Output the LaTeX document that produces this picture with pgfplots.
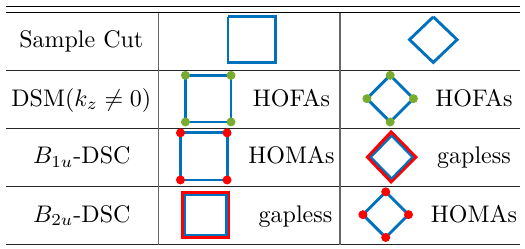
\documentclass[border=0pt]{standalone}
\usepackage{pgfplots}
\pgfplotsset{compat=1.18}
\definecolor{mblue}{HTML}{0072BD}
\definecolor{mgreen}{HTML}{77AC30}
\definecolor{mred}{HTML}{FF0000}
\begin{document}
\begin{tikzpicture}
\begin{axis}[
  scale only axis, width=216.9pt, height=103.7pt,
  xmin=0, xmax=525, ymin=0, ymax=251, y dir=reverse,
  hide axis, clip=false,
]
% invisible frame
\addplot[draw=none, forget plot] coordinates {(0,0) (525,251)};
% table rules
\addplot[black, line width=0.45pt] coordinates {(6,7) (524,7)};
\addplot[black, line width=0.45pt] coordinates {(6,12.7) (524,12.7)};
\addplot[black!85, line width=0.45pt] coordinates {(6,71) (524,71)};
\addplot[black!85, line width=0.45pt] coordinates {(6,130) (524,130)};
\addplot[black!85, line width=0.45pt] coordinates {(6,188.5) (524,188.5)};
\addplot[black!85, line width=0.45pt] coordinates {(6,247) (524,247)};
\addplot[black!60, line width=0.5pt] coordinates {(160,13) (160,247)};
\addplot[black!60, line width=0.5pt] coordinates {(343,13) (343,247)};
% row 1
\addplot[mblue, line width=1.2pt] coordinates {(230,17) (278,17) (278,63) (230,63) (230,17)};
\addplot[mblue, line width=1.2pt] coordinates {(437,17) (461,40) (437,63) (413,40) (437,17)};
% row 2
\addplot[mblue, line width=1.2pt] coordinates {(187,76) (233,76) (233,123) (187,123) (187,76)};
\addplot[only marks, mark=*, mark size=1.65pt, mgreen, mark options={draw=mgreen, fill=mgreen}] coordinates {(187,76) (233,76) (233,123) (187,123)};
\addplot[mblue, line width=1.2pt] coordinates {(393.5,76) (417,99.5) (393.5,123) (370,99.5) (393.5,76)};
\addplot[only marks, mark=*, mark size=1.65pt, mgreen, mark options={draw=mgreen, fill=mgreen}] coordinates {(393.5,76) (417,99.5) (393.5,123) (370,99.5)};
% row 3
\addplot[mblue, line width=1.2pt] coordinates {(182,134) (229,134) (229,181.5) (182,181.5) (182,134)};
\addplot[only marks, mark=*, mark size=1.65pt, mred, mark options={draw=mred, fill=mred}] coordinates {(182,134) (229,134) (229,181.5) (182,181.5)};
\addplot[mred, line width=1.5pt] coordinates {(394.5,133.5) (419,158.5) (394.5,183) (371,158.5) (394.5,133.5) (419,158.5)};
\addplot[mblue, line width=0.9pt] coordinates {(395,137) (416,158.5) (395,180) (374,158.5) (395,137) (416,158.5)};
% row 4
\addplot[mred, line width=1.4pt] coordinates {(184,194.5) (230.5,194.5) (230.5,239.5) (184,239.5) (184,194.5) (230.5,194.5)};
\addplot[mblue, line width=0.9pt] coordinates {(186.5,197) (228.5,197) (228.5,237) (186.5,237) (186.5,197) (228.5,197)};
\addplot[mblue, line width=1.2pt] coordinates {(389,193.5) (412,216.5) (389,239.5) (366,216.5) (389,193.5)};
\addplot[only marks, mark=*, mark size=1.65pt, mred, mark options={draw=mred, fill=mred}] coordinates {(389,193.5) (412,216.5) (389,239.5) (366,216.5)};
% texts
\node[anchor=base] at (axis cs:82,48) {Sample Cut};
\node[anchor=base] at (axis cs:82,107) {DSM$(k_z\neq 0)$};
\node[anchor=base] at (axis cs:82.5,165) {$B_{1u}$-DSC};
\node[anchor=base] at (axis cs:82.5,224) {$B_{2u}$-DSC};
\node[anchor=base] at (axis cs:294,107) {HOFAs};
\node[anchor=base] at (axis cs:294,165) {HOMAs};
\node[anchor=base] at (axis cs:298,224) {gapless};
\node[anchor=base] at (axis cs:478,107) {HOFAs};
\node[anchor=base] at (axis cs:478,165) {gapless};
\node[anchor=base] at (axis cs:478,224) {HOMAs};
\end{axis}
\end{tikzpicture}
\end{document}
